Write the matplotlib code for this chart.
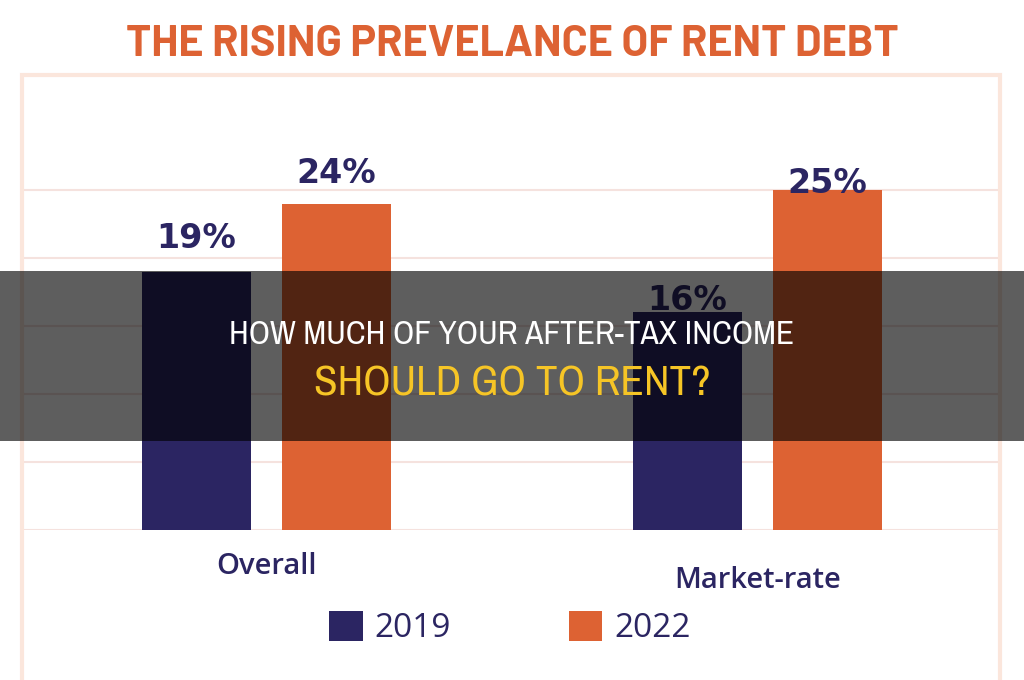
import matplotlib
matplotlib.use("Agg")
import matplotlib.pyplot as plt
import numpy as np
from matplotlib.patches import Rectangle

# data
categories = ["Overall", "Market-rate"]
years = ["2019", "2022"]
values_2019 = [19, 16]
values_2022 = [24, 25]

NAVY = "#2B2562"
ORANGE = "#DD6233"
GRID = "#F5E2DE"
FRAME = "#FBE6DC"
YELLOW = "#F6C526"

W, H = 1024, 680
fig = plt.figure(figsize=(W / 100, H / 100), dpi=100)
fig.patch.set_facecolor("white")


def px(x0, y0, x1, y1):
    """pixel box (top-left origin) -> figure fraction rect"""
    return [x0 / W, 1 - y1 / H, (x1 - x0) / W, (y1 - y0) / H]


# light frame around the chart
fig.patches.append(Rectangle((22 / W, -0.05), (1000 - 22) / W, 1.05 - 75 / H,
                             transform=fig.transFigure, fill=False,
                             edgecolor=FRAME, linewidth=3, zorder=0))

title_font = ["Barlow", "Barlow Semi Condensed", "DejaVu Sans"]
head_font = ["Archivo Narrow", "DejaVu Sans"]
fig.text(0.5, 1 - 44 / H, "THE RISING PREVELANCE OF RENT DEBT", ha="center", va="center",
         fontsize=31, fontweight="bold", color=ORANGE, family=title_font)

ax = fig.add_axes(px(24, 75, 998, 530))
x = np.arange(len(categories))
width = 0.222
offset = 0.1426
b1 = ax.bar(x - offset, values_2019, width, color=NAVY, label=years[0], zorder=2)
b2 = ax.bar(x + offset, values_2022, width, color=ORANGE, label=years[1], zorder=2)

ax.set_xlim(-0.494, 1.49)
ax.set_ylim(0, 33.46)
ax.set_yticks([0, 5, 10, 15, 20, 25])
ax.grid(axis="y", color=GRID, linewidth=1.5, zorder=0)
ax.tick_params(left=False, bottom=False, labelleft=False, labelbottom=False)
for s in ax.spines.values():
    s.set_visible(False)
ax.set_facecolor("none")

# value labels: baseline gap above bar top in points (uneven in the original)
gaps = [[17, 2], [15, -2]]
for j, bars in enumerate((b1, b2)):
    for i, bar in enumerate(bars):
        ax.annotate(f"{bar.get_height():.0f}%",
                    (bar.get_x() + bar.get_width() / 2, bar.get_height()),
                    xytext=(0, gaps[j][i]), textcoords="offset points",
                    ha="center", va="baseline", fontsize=24, fontweight="bold",
                    color=NAVY, family="DejaVu Sans", zorder=3)

# category labels under the groups
cat_drop = [37, 50]
for i, c in enumerate(categories):
    ax.annotate(c, (x[i], 0), xytext=(0, -cat_drop[i] * 0.72), textcoords="offset points",
                ha="center", va="center", fontsize=21, fontweight="semibold",
                color=NAVY, family=["Open Sans", "DejaVu Sans"])

leg = fig.legend(handles=[b1, b2], labels=years, loc="center",
                 bbox_to_anchor=(510 / W, 1 - 628 / H), ncol=2, frameon=False,
                 handlelength=1.0, handleheight=1.0,
                 handletextpad=0.35, columnspacing=3.55,
                 prop={"family": ["Open Sans", "DejaVu Sans"], "size": 24})
for t in leg.get_texts():
    t.set_color(NAVY)

# dark overlay banner with headline
fig.patches.append(Rectangle((0, 1 - 441 / H), 1, (441 - 271) / H,
                             transform=fig.transFigure, facecolor="black",
                             alpha=0.63, edgecolor="none", zorder=10))
fig.text(0.5, 1 - 335 / H, "HOW MUCH OF YOUR AFTER-TAX INCOME", ha="center", va="center",
         fontsize=24, fontstretch="condensed", color="white", family=head_font, zorder=11)
fig.text(0.5, 1 - 383 / H, "SHOULD GO TO RENT?", ha="center", va="center",
         fontsize=31, fontstretch="condensed", color=YELLOW, family=head_font, zorder=11)

fig.savefig("out.png", dpi=100)
